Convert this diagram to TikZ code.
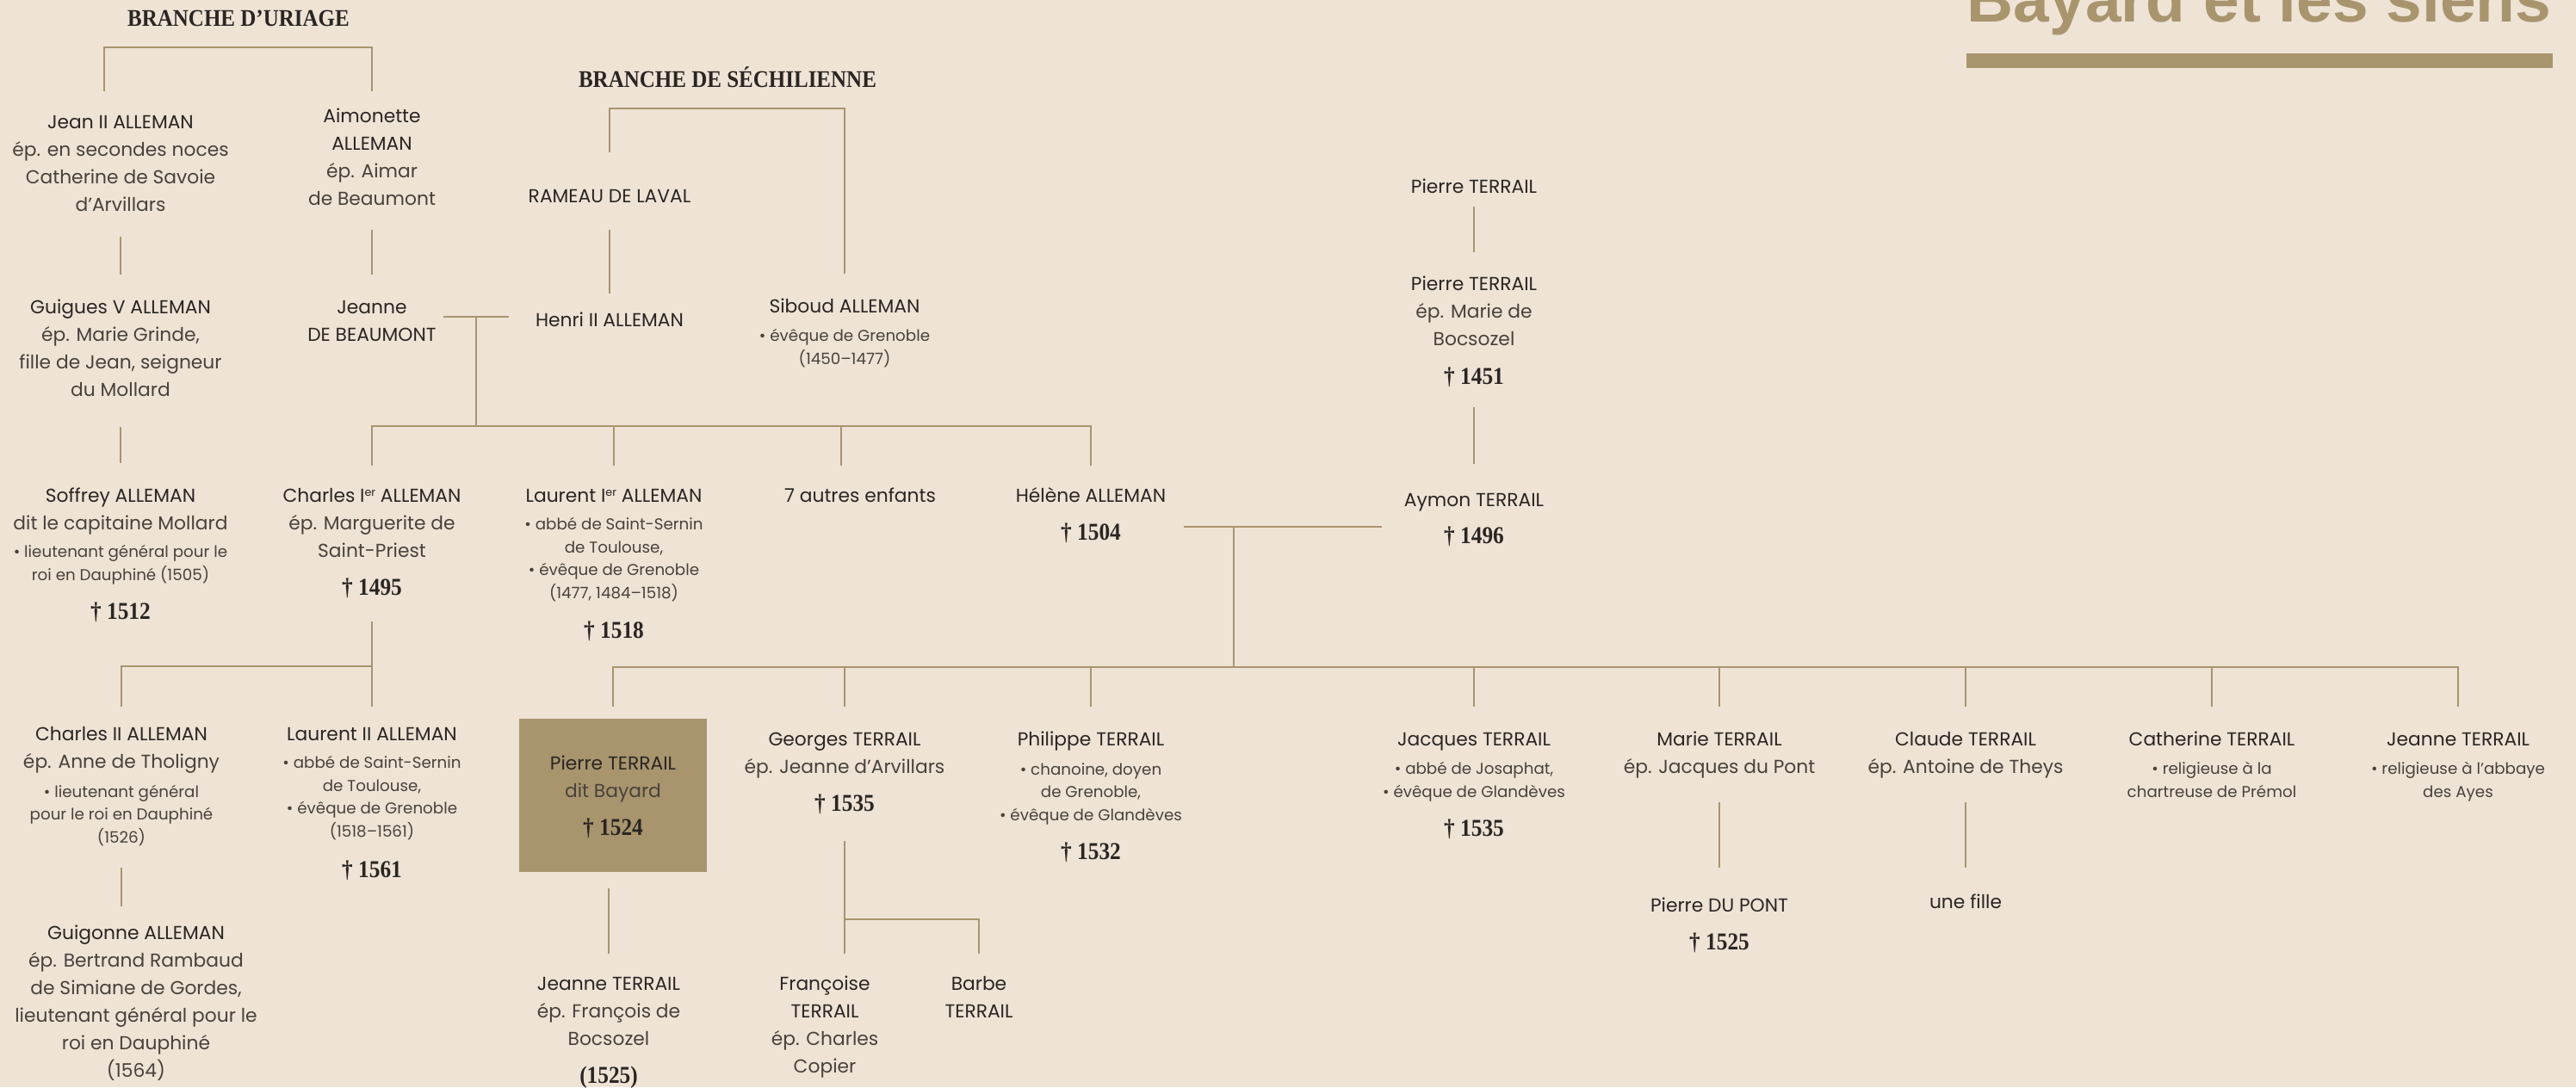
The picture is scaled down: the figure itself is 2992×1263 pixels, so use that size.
\documentclass[tikz,border=0pt]{standalone}
\usepackage{fontspec}
\setmainfont{Poppins}
\newfontfamily\serifdisp{Liberation Serif}[FakeStretch=0.9]
\newfontfamily\titlesans{Liberation Sans}
\usetikzlibrary{calc}

\definecolor{paper}{HTML}{EFE3D6}
\definecolor{gold}{HTML}{A8956E}
\definecolor{ink}{HTML}{2A2622}
\definecolor{soft}{HTML}{48423B}

\newcommand{\ep}[1]{{\color{soft}#1}}
\newcommand{\ier}{I\raisebox{0.55ex}{\fontsize{3.6}{4}\selectfont er}}

% nodes sit on the baseline of their last line
\tikzset{
  tie/.style={draw=gold, line width=0.7pt},
  pers/.style={font=\fontsize{6.2}{9.1}\selectfont, text=ink, align=center, inner sep=0pt, anchor=base},
  note/.style={font=\fontsize{5.2}{7.5}\selectfont, text=soft, align=center, inner sep=0pt, anchor=base},
  obit/.style={font=\serifdisp\bfseries\fontsize{8}{9}\selectfont, text=ink, inner sep=0pt, anchor=base},
  branchhead/.style={font=\serifdisp\bfseries\fontsize{7.9}{9}\selectfont, text=ink, inner sep=0pt},
  herobox/.style={fill=gold, minimum width=2.18cm, minimum height=1.78cm, inner sep=0pt},
}

\begin{document}
\begin{tikzpicture}[x=0.01cm, y=-0.01cm]
\useasboundingbox (0,0) rectangle (2992,1263);
\fill[paper] (0,0) rectangle (2992,1263);
\clip (0,0) rectangle (2992,1263);

% titre
\node[font=\titlesans\bfseries\fontsize{21.3}{24}\selectfont, text=gold, anchor=base, inner sep=0pt] (title) at (2624,25) {Bayard et les siens};
\fill[gold] (2284,62) rectangle (2965,79);

% branches
\node[branchhead] (uriage) at (277,21) {BRANCHE D’URIAGE};
\node[branchhead] (sechil) at (845,90) {BRANCHE DE SÉCHILIENNE};

% les Alleman
\node[pers] (jean) at (140,245) {Jean II ALLEMAN\\\ep{ép. en secondes noces}\\\ep{Catherine de Savoie}\\\ep{d’Arvillars}};
\node[pers] (aimo) at (432,238) {Aimonette\\ALLEMAN\\\ep{ép. Aimar}\\\ep{de Beaumont}};
\node[pers] (rameau) at (708,235) {RAMEAU DE LAVAL};
\node[pers] (siboud) at (981,363) {Siboud ALLEMAN};
\node[note] (siboudN) at (981,423) {• évêque de Grenoble\\(1450–1477)};
\node[pers] (guigues) at (140,460) {Guigues V ALLEMAN\\\ep{ép. Marie Grinde,}\\\ep{fille de Jean, seigneur}\\\ep{du Mollard}};
\node[pers] (jeanneB) at (432,396) {Jeanne\\DE BEAUMONT};
\node[pers] (henri) at (708,379) {Henri II ALLEMAN};

\node[pers] (soffrey) at (140,615) {Soffrey ALLEMAN\\\ep{dit le capitaine Mollard}};
\node[note] (soffreyN) at (140,674) {• lieutenant général pour le\\roi en Dauphiné (1505)};
\node[obit] (soffreyD) at (140,719) {† 1512};
\node[pers] (charlesA) at (432,647) {Charles \ier{} ALLEMAN\\\ep{ép. Marguerite de}\\\ep{Saint-Priest}};
\node[obit] (charlesAD) at (432,691) {† 1495};
\node[pers] (laurentA) at (713,583) {Laurent \ier{} ALLEMAN};
\node[note] (laurentAN) at (713,695) {• abbé de Saint-Sernin\\de Toulouse,\\• évêque de Grenoble\\(1477, 1484–1518)};
\node[obit] (laurentAD) at (713,741) {† 1518};
\node[pers] (autres) at (999,583) {7 autres enfants};
\node[pers] (helene) at (1267,583) {Hélène ALLEMAN};
\node[obit] (heleneD) at (1267,627) {† 1504};

\node[pers] (charlesB) at (141,892) {Charles II ALLEMAN\\\ep{ép. Anne de Tholigny}};
\node[note] (charlesBN) at (141,979) {• lieutenant général\\pour le roi en Dauphiné\\(1526)};
\node[pers] (laurentB) at (432,860) {Laurent II ALLEMAN};
\node[note] (laurentBN) at (432,972) {• abbé de Saint-Sernin\\de Toulouse,\\• évêque de Grenoble\\(1518–1561)};
\node[obit] (laurentBD) at (432,1019) {† 1561};
\node[pers] (guigonne) at (158,1251) {Guigonne ALLEMAN\\\ep{ép. Bertrand Rambaud}\\\ep{de Simiane de Gordes,}\\\ep{lieutenant général pour le}\\\ep{roi en Dauphiné}\\\ep{(1564)}};

% les Terrail
\node[pers] (pierreA) at (1712,224) {Pierre TERRAIL};
\node[pers] (pierreB) at (1712,401) {Pierre TERRAIL\\\ep{ép. Marie de}\\\ep{Bocsozel}};
\node[obit] (pierreBD) at (1712,446) {† 1451};
\node[pers] (aymon) at (1712,588) {Aymon TERRAIL};
\node[obit] (aymonD) at (1712,631) {† 1496};

\node[herobox] (bayard) at (712,924) {};
\node[pers] (bayardN) at (712,926) {Pierre TERRAIL\\\ep{dit Bayard}};
\node[obit] (bayardD) at (712,970) {† 1524};
\node[pers] (georges) at (981,898) {Georges TERRAIL\\\ep{ép. Jeanne d’Arvillars}};
\node[obit] (georgesD) at (981,942) {† 1535};
\node[pers] (philippe) at (1267,866) {Philippe TERRAIL};
\node[note] (philippeN) at (1267,953) {• chanoine, doyen\\de Grenoble,\\• évêque de Glandèves};
\node[obit] (philippeD) at (1267,998) {† 1532};
\node[pers] (jacques) at (1712,866) {Jacques TERRAIL};
\node[note] (jacquesN) at (1712,926) {• abbé de Josaphat,\\• évêque de Glandèves};
\node[obit] (jacquesD) at (1712,971) {† 1535};
\node[pers] (marie) at (1997,898) {Marie TERRAIL\\\ep{ép. Jacques du Pont}};
\node[pers] (claude) at (2283,898) {Claude TERRAIL\\\ep{ép. Antoine de Theys}};
\node[pers] (catherine) at (2569,866) {Catherine TERRAIL};
\node[note] (catherineN) at (2569,926) {• religieuse à la\\chartreuse de Prémol};
\node[pers] (jeanneC) at (2855,866) {Jeanne TERRAIL};
\node[note] (jeanneCN) at (2855,926) {• religieuse à l’abbaye\\des Ayes};

\node[pers] (dupont) at (1997,1059) {Pierre DU PONT};
\node[obit] (dupontD) at (1997,1103) {† 1525};
\node[pers] (fille) at (2283,1055) {une fille};
\node[pers] (jeanneT) at (707,1214) {Jeanne TERRAIL\\\ep{ép. François de}\\\ep{Bocsozel}};
\node[obit] (jeanneTD) at (707,1258) {(1525)};
\node[pers] (francoise) at (958,1246) {Françoise\\TERRAIL\\\ep{ép. Charles}\\\ep{Copier}};
\node[pers] (barbe) at (1137,1182) {Barbe\\TERRAIL};

% liens Alleman
\draw[tie] ($(jean |- 0,106)+(-19,0)$) |- (aimo |- 0,55) -- (aimo |- 0,106);
\draw[tie] (jean |- 0,275) -- (guigues |- 0,319);
\draw[tie] (aimo |- 0,267) -- (jeanneB |- 0,319);
\draw[tie] (rameau |- 0,177) |- (siboud |- 0,126) -- (siboud |- 0,318);
\draw[tie] (rameau |- 0,267) -- (henri |- 0,341);
\coordinate (wedA) at (553,368);
\draw[tie] ($(jeanneB.east |- wedA)+(8,0)$) -- ($(henri.west |- wedA)+(-30,0)$);
\draw[tie] (wedA) -- (wedA |- 0,495);
\draw[tie] (charlesA |- 0,541) |- (helene |- 0,495) -- (helene |- 0,541);
\draw[tie] (laurentA |- 0,495) -- (laurentA |- 0,541);
\draw[tie] ($(autres |- 0,495)+(-22,0)$) -- ($(autres |- 0,541)+(-22,0)$);
\draw[tie] (guigues |- 0,496) -- (soffrey |- 0,538);
\draw[tie] (charlesA |- 0,722) -- (laurentB |- 0,774);
\draw[tie] (charlesB |- 0,821) |- (laurentB |- 0,774) -- (laurentB |- 0,821);
\draw[tie] (charlesB |- 0,1008) -- ($(guigonne |- 0,1053)+(-17,0)$);

% liens Terrail
\draw[tie] (pierreA |- 0,240) -- (pierreB |- 0,293);
\draw[tie] (pierreB |- 0,473) -- (aymon |- 0,539);
\coordinate (wedB) at (1433,612);
\draw[tie] ($(helene.east |- wedB)+(20,0)$) -- ($(aymon.west |- wedB)+(-25,0)$);
\draw[tie] (wedB) -- (wedB |- 0,775);
\draw[tie] (bayard |- 0,821) |- (jeanneC |- 0,775) -- (jeanneC |- 0,821);
\draw[tie] (georges |- 0,775) -- (georges |- 0,821);
\draw[tie] (philippe |- 0,775) -- (philippe |- 0,821);
\draw[tie] (jacques |- 0,775) -- (jacques |- 0,821);
\draw[tie] (marie |- 0,775) -- (marie |- 0,821);
\draw[tie] (claude |- 0,775) -- (claude |- 0,821);
\draw[tie] (catherine |- 0,775) -- (catherine |- 0,821);
\draw[tie] ($(bayard.south -| jeanneT)+(0,18)$) -- (jeanneT |- 0,1108);
\draw[tie] (georges |- 0,977) -- (georges |- 0,1108);
\draw[tie] (georges |- 0,1068) -| (barbe |- 0,1108);
\draw[tie] (marie |- 0,932) -- (dupont |- 0,1008);
\draw[tie] (claude |- 0,932) -- (fille |- 0,1008);
\end{tikzpicture}
\end{document}
